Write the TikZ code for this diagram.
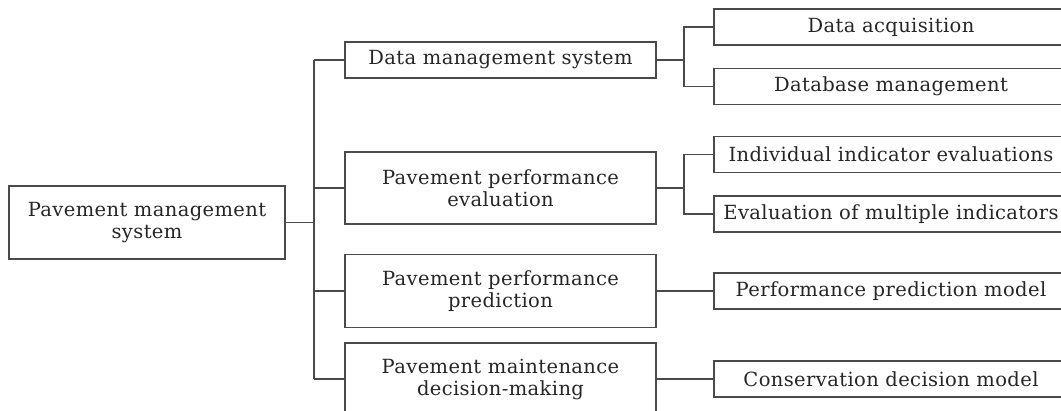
\documentclass[tikz,border=0pt]{standalone}
\usepackage{fontspec}
\setmainfont{DejaVu Serif}[LetterSpace=2]
\definecolor{linec}{HTML}{4A4A4A}
\definecolor{textc}{HTML}{262626}
\begin{document}
\begin{tikzpicture}[x=1pt,y=-1pt,
  box/.style={draw=linec, line width=1.4pt, inner sep=0pt, align=center,
    text=textc, font=\fontsize{19.5}{22}\selectfont},
  mid/.style={box, minimum width=311pt},
  leaf/.style={box, minimum width=354pt, minimum height=36pt},
  conn/.style={draw=linec, line width=1.4pt}]
\useasboundingbox (0,0) rectangle (1061,411);
\clip (0,0) rectangle (1061,411);
\fill[white] (0,0) rectangle (1061,411);
% root
\node[box, minimum width=276pt, minimum height=73pt] (root) at (147,222.5) {Pavement management\\system};
% middle
\node[mid, minimum height=36pt] (data) at (500.5,60) {Data management system};
\node[mid, minimum height=72pt] (eval) at (500.5,188) {Pavement performance\\evaluation};
\node[mid, minimum height=73pt] (pred) at (500.5,291) {Pavement performance\\prediction};
\node[mid, minimum height=72pt] (maint) at (500.5,379) {Pavement maintenance\\decision-making};
% leaves
\node[leaf] (acq) at (891,27) {Data acquisition};
\node[leaf] (db) at (891,86.5) {Database management};
\node[leaf] (ind) at (891,154.5) {Individual indicator evaluations};
\node[leaf] (mult) at (891,214) {Evaluation of multiple indicators};
\node[leaf] (ppm) at (891,291) {Performance prediction model};
\node[leaf] (cons) at (891,379) {Conservation decision model};
% buses
\coordinate (b1) at (314,0);
\coordinate (b2) at (684,0);
% root to middle
\draw[conn] (root.east) -- (b1 |- root.east);
\draw[conn] (b1 |- data.west) -- (b1 |- maint.west);
\draw[conn] (b1 |- data.west) -- (data.west);
\draw[conn] (b1 |- eval.west) -- (eval.west);
\draw[conn] (b1 |- pred.west) -- (pred.west);
\draw[conn] (b1 |- maint.west) -- (maint.west);
% middle to leaves
\draw[conn] (data.east) -- (b2 |- data.east);
\draw[conn] (acq.west) -| (b2 |- data.east) |- (db.west);
\draw[conn] (eval.east) -- (b2 |- eval.east);
\draw[conn] (ind.west) -| (b2 |- eval.east) |- (mult.west);
\draw[conn] (pred.east) -- (ppm.west);
\draw[conn] (maint.east) -- (cons.west);
\end{tikzpicture}
\end{document}
